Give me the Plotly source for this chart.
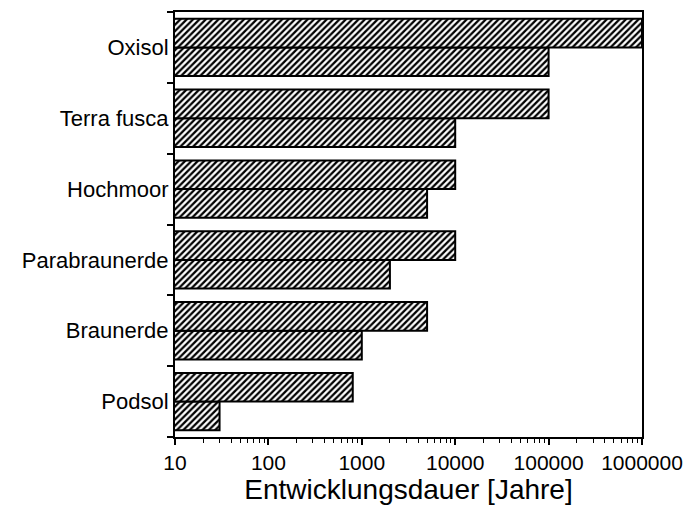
import plotly.graph_objects as go

# Categories (bottom to top)
categories = ["Podsol", "Braunerde", "Parabraunerde", "Hochmoor", "Terra fusca", "Oxisol"]
# Lower bar (minimum development time, years)
dauer_min = [30, 1000, 2000, 5000, 10000, 100000]
# Upper bar (maximum development time, years)
dauer_max = [800, 5000, 10000, 10000, 100000, 1000000]
# X tick labels
x_tickvals = [10, 100, 1000, 10000, 100000, 1000000]
x_ticktext = ["10", "100", "1000", "10000", "100000", "1000000"]

pattern = dict(shape="/", size=4.5, solidity=0.5, fgcolor="black", bgcolor="white", fillmode="replace")

fig = go.Figure()
fig.add_trace(go.Bar(
    y=categories, x=dauer_min, orientation="h", name="min",
    marker=dict(color="white", pattern=pattern, line=dict(color="black", width=2)),
))
fig.add_trace(go.Bar(
    y=categories, x=dauer_max, orientation="h", name="max",
    marker=dict(color="white", pattern=pattern, line=dict(color="black", width=2)),
))

fig.update_layout(
    width=693, height=508,
    margin=dict(l=175, r=47, t=10, b=68),
    paper_bgcolor="white", plot_bgcolor="white",
    barmode="group", bargap=0.19, bargroupgap=0,
    showlegend=False,
    font=dict(family="Liberation Sans, Arial, sans-serif", color="black"),
)
fig.update_xaxes(
    type="log", range=[1, 6],
    tickvals=x_tickvals, ticktext=x_ticktext,
    ticks="outside", ticklen=6, tickwidth=1.5, tickcolor="black",
    minor=dict(ticks="outside", ticklen=4, tickwidth=1, tickcolor="black", dtick="D1", showgrid=False),
    showline=True, linecolor="black", linewidth=2, mirror=True,
    showgrid=False, zeroline=False,
    tickfont=dict(size=21),
    title=dict(text="Entwicklungsdauer [Jahre]", font=dict(size=28), standoff=4),
)
fig.update_yaxes(
    type="category", categoryorder="array", categoryarray=categories,
    ticks="outside", tickson="boundaries", ticklen=6, tickwidth=1.5, tickcolor="black",
    showline=True, linecolor="black", linewidth=2, mirror=True,
    showgrid=False, zeroline=False,
    tickfont=dict(size=22),
)

fig.write_html("out.html")
